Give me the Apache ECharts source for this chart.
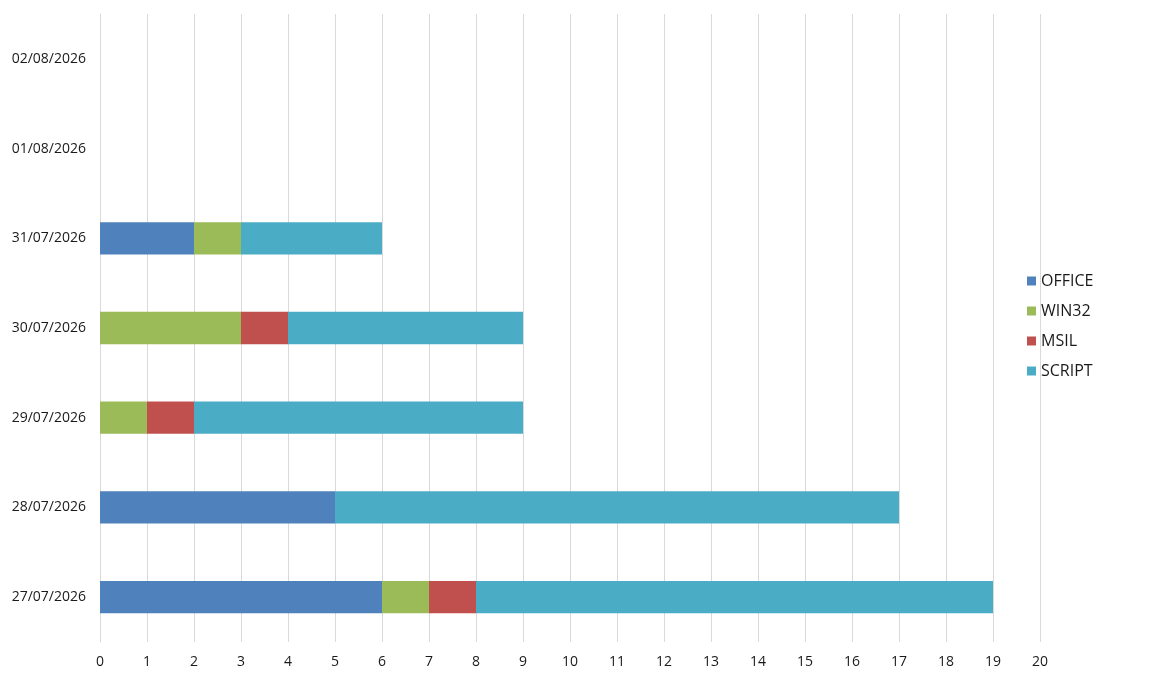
<!DOCTYPE html>
<html lang="en">
<head>
    <meta charset="UTF-8">
    <title>Samples per day</title>
    <script src="https://cdn.jsdelivr.net/npm/echarts@6/dist/echarts.min.js"></script>
    <style>
        html, body, #chart {
            width: 100%;
            height: 100%;
            margin: 0;
            padding: 0;
            background: #fff;
        }
        body { overflow: hidden; }
    </style>
</head>
<body>
    <div id="chart"></div>
    <script>
        // dates, bottom to top
        const days = ['27/07/2026', '28/07/2026', '29/07/2026', '30/07/2026', '31/07/2026', '01/08/2026', '02/08/2026'];
        const office = [6, 5, null, null, 2, null, null];
        const win32  = [1, null, 1, 3, 1, null, null];
        const msil   = [1, null, 1, 1, null, null, null];
        const script = [11, 12, 7, 5, 3, null, null];

        const chart = echarts.init(document.getElementById('chart'));

        function bar(name, data, color) {
            return {
                name: name,
                type: 'bar',
                stack: 'total',
                data: data,
                barWidth: '36%',
                itemStyle: { color: color },
                emphasis: { disabled: true }
            };
        }

        chart.setOption({
            animation: false,
            textStyle: { fontFamily: 'Open Sans, DejaVu Sans, sans-serif' },
            grid: { left: 100, top: 14, width: 940, height: 628 },
            legend: {
                orient: 'vertical',
                left: 1022,
                top: 268,
                itemWidth: 9,
                itemHeight: 9,
                itemGap: 14,
                icon: 'rect',
                textStyle: { fontSize: 16, color: '#1a1a1a' },
                data: ['OFFICE', 'WIN32', 'MSIL', 'SCRIPT']
            },
            xAxis: {
                type: 'value',
                min: 0,
                max: 20,
                interval: 1,
                axisLine: { show: false },
                axisTick: { show: false },
                axisLabel: { fontSize: 14, color: '#1a1a1a', margin: 13 },
                splitLine: { lineStyle: { color: '#d9d9d9' } }
            },
            yAxis: {
                type: 'category',
                data: days,
                axisLine: { lineStyle: { color: '#d9d9d9' } },
                axisTick: { length: 5, lineStyle: { color: '#d9d9d9' } },
                axisLabel: { fontSize: 14, color: '#1a1a1a', margin: 14 }
            },
            series: [
                bar('OFFICE', office, '#4f81bd'),
                bar('WIN32', win32, '#9bbb59'),
                bar('MSIL', msil, '#c0504d'),
                bar('SCRIPT', script, '#4bacc6')
            ]
        });

        window.addEventListener('resize', function () {
            chart.resize();
        });
    </script>
</body>
</html>
